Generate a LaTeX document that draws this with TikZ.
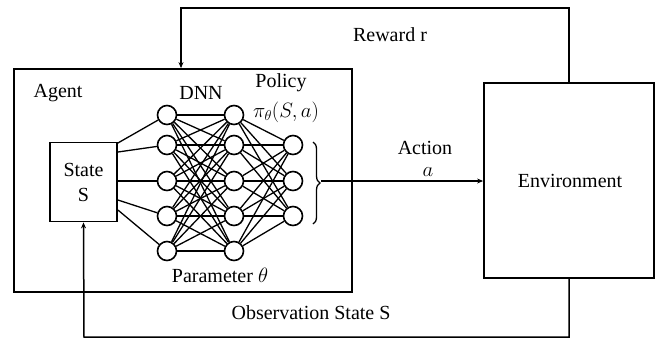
\documentclass[tikz,border=0pt]{standalone}
\usepackage{fontspec}
\setmainfont{Liberation Serif}
\usetikzlibrary{arrows.meta,decorations.pathreplacing}
\begin{document}
\begin{tikzpicture}[x=1pt,y=-1pt,
  every node/.style={font=\fontsize{20}{23}\selectfont},
  box/.style={draw,line width=1.8pt,inner sep=0pt},
  neuron/.style={draw,circle,line width=1.6pt,minimum size=19pt,inner sep=0pt,fill=white},
  link/.style={line width=1.3pt},
  arr/.style={line width=1.5pt,-{Stealth[length=6pt,width=5pt]}},
  lbl/.style={inner sep=0pt}]
\useasboundingbox (0,0) rectangle (655,341);
% boxes
\node[box,minimum width=338pt,minimum height=223pt] (agent) at (183,180.5) {};
\node[box,minimum width=170pt,minimum height=195pt] (env) at (569,180.5) {};
\node[box,minimum width=67pt,minimum height=79pt,align=center] (st) at (83.5,182) {State\\[2pt]S};
\node[lbl] (envt) at (570,181) {Environment};
% labels
\node[lbl] (agt) at (58,93) {Agent};
\node[lbl] (dnn) at (201,93) {DNN};
\node[lbl] (pol) at (281,83) {Policy};
\node[lbl] (pi) at (286,112) {$\pi_\theta(S,a)$};
\node[lbl] (par) at (220,275) {Parameter $\theta$};
\node[lbl] (rew) at (390,35) {Reward r};
\node[lbl] (obs) at (311,313) {Observation State S};
\node[lbl] (act) at (425,148) {Action};
\node[lbl] (acta) at (428,172) {$a$};
% neurons
\foreach \i/\y in {1/115,2/145,3/181,4/216,5/251}{
  \node[neuron] (a\i) at (167,\y) {};
  \node[neuron] (b\i) at (234,\y) {};
}
\foreach \i/\y in {1/145,2/181,3/216}{
  \node[neuron] (c\i) at (293,\y) {};
}
% state to layer 1
\foreach \i/\y in {1/143,2/152,3/181,4/200,5/210}{
  \coordinate (s\i) at (st.east |- 0,\y);
  \draw[link] (s\i) -- (a\i);
}
\foreach \i in {1,...,5}{
  \foreach \j in {1,...,5}{
    \draw[link] (a\i) -- (b\j);
  }
  \foreach \k in {1,2,3}{
    \draw[link] (b\i) -- (c\k);
  }
}
% brace
\coordinate (bt) at (313,142);
\coordinate (bb) at (313,224);
\draw[line width=1.3pt,decorate,decoration={brace,amplitude=7pt}] (bt) -- (bb);
\coordinate (br) at (321,181);
% connectors
\draw[arr] (br) -- (env.west |- br);
\coordinate (rc) at (181,8);
\draw[arr] (env.north) |- (rc) -- (rc |- agent.north);
\coordinate (oc) at (84,337);
\draw[arr] (env.south) |- (oc) -- (st.south);
\end{tikzpicture}
\end{document}
